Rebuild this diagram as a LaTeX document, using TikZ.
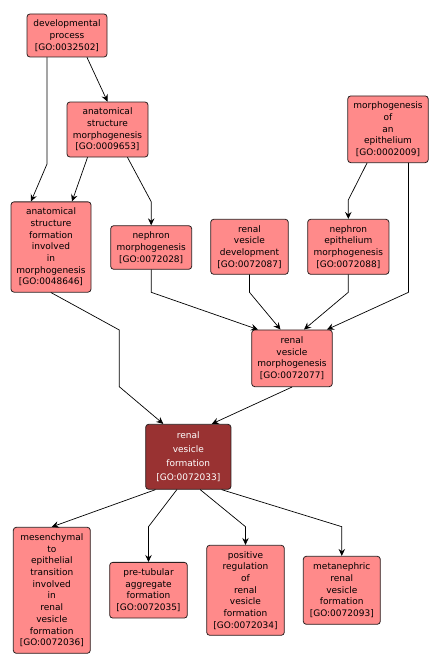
\documentclass[tikz,border=0pt]{standalone}
\usepackage{fontspec}
\setmainfont{DejaVu Sans}
\usetikzlibrary{arrows.meta}
\definecolor{termfill}{HTML}{FF8A8A}
\definecolor{termdark}{HTML}{993232}
\definecolor{termline}{HTML}{2A2020}

\begin{document}
\begin{tikzpicture}[x=1pt,y=-1pt,line cap=round,line join=round,
  term/.style={draw=termline,line width=0.8pt,fill=termfill,rounded corners=3pt,
    inner sep=0pt,align=center,font=\fontsize{9}{11.7}\selectfont},
  focus/.style={term,fill=termdark,text=white,font=\fontsize{9}{14}\selectfont},
  edge/.style={line width=0.7pt,-{Stealth[length=7pt,width=6.5pt,inset=2.5pt]}}]
  \useasboundingbox (0,0) rectangle (439,669);
  % upper terms
  \node[term,minimum width=80pt,minimum height=43pt] (devproc) at (67,35.5)
    {developmental\\process\\{[}GO:0032502]};
  \node[term,minimum width=81pt,minimum height=55pt] (asm) at (107.5,129.5)
    {anatomical\\structure\\morphogenesis\\{[}GO:0009653]};
  \node[term,minimum width=80.5pt,minimum height=66.7pt] (moe) at (388,129.3)
    {morphogenesis\\of\\an\\epithelium\\{[}GO:0002009]};
  \node[term,minimum width=80pt,minimum height=90.3pt] (asfim) at (51,247)
    {anatomical\\structure\\formation\\involved\\in\\morphogenesis\\{[}GO:0048646]};
  \node[term,minimum width=81pt,minimum height=43.6pt] (nephmorph) at (151.2,247.5)
    {nephron\\morphogenesis\\{[}GO:0072028]};
  \node[term,minimum width=77.6pt,minimum height=55pt] (rvd) at (249.5,246.8)
    {renal\\vesicle\\development\\{[}GO:0072087]};
  \node[term,minimum width=81.3pt,minimum height=55pt] (nem) at (348.3,246.8)
    {nephron\\epithelium\\morphogenesis\\{[}GO:0072088]};
  \node[term,minimum width=80.6pt,minimum height=56.7pt] (rvm) at (292,358.3)
    {renal\\vesicle\\morphogenesis\\{[}GO:0072077]};
  % the term in focus
  \node[focus,minimum width=85.3pt,minimum height=65pt] (rvf) at (188.3,456.8)
    {renal\\vesicle\\formation\\{[}GO:0072033]};
  % lower terms
  \node[term,minimum width=77pt,minimum height=126pt] (mes) at (51.8,590.3)
    {mesenchymal\\to\\epithelial\\transition\\involved\\in\\renal\\vesicle\\formation\\{[}GO:0072036]};
  \node[term,minimum width=77.6pt,minimum height=55.7pt] (ptaf) at (148.5,590.2)
    {pre-tubular\\aggregate\\formation\\{[}GO:0072035]};
  \node[term,minimum width=77.6pt,minimum height=90pt] (prrvf) at (245.5,590.3)
    {positive\\regulation\\of\\renal\\vesicle\\formation\\{[}GO:0072034]};
  \node[term,minimum width=77pt,minimum height=68pt] (mrvf) at (341.8,590.3)
    {metanephric\\renal\\vesicle\\formation\\{[}GO:0072093]};
  % edges
  \draw[edge] ([xshift=20pt]devproc.south) -- (asm.north);
  \draw[edge] ([xshift=-20pt]devproc.south) -- (47,164) -- ([xshift=-20pt]asfim.north);
  \draw[edge] ([xshift=-20pt]asm.south) -- ([xshift=21pt]asfim.north);
  \draw[edge] ([xshift=20pt]asm.south) -- (151.2,201.7) -- (nephmorph.north);
  \draw[edge] ([xshift=-21pt]moe.south) -- (348.3,200) -- (nem.north);
  \draw[edge] ([xshift=20.5pt]moe.south) -- (408.5,292.3) -- ([xshift=35pt]rvm.north);
  \draw[edge] (nephmorph.south) -- (151.2,292.3) -- ([xshift=-34pt]rvm.north);
  \draw[edge] (rvd.south) -- (249.5,292.3) -- ([xshift=-11.5pt]rvm.north);
  \draw[edge] (nem.south) -- (348.3,292.3) -- ([xshift=12pt]rvm.north);
  \draw[edge] (asfim.south) -- (119.3,330) -- (119.3,386.7) -- ([xshift=-25pt]rvf.north);
  \draw[edge] (rvm.south) -- ([xshift=23.5pt]rvf.north);
  \draw[edge] ([xshift=-33pt]rvf.south) -- (mes.north);
  \draw[edge] ([xshift=-11.5pt]rvf.south) -- (148.5,526.7) -- (ptaf.north);
  \draw[edge] ([xshift=12pt]rvf.south) -- (245.5,526.7) -- (prrvf.north);
  \draw[edge] ([xshift=33.5pt]rvf.south) -- (341.8,526.7) -- (mrvf.north);
\end{tikzpicture}
\end{document}
